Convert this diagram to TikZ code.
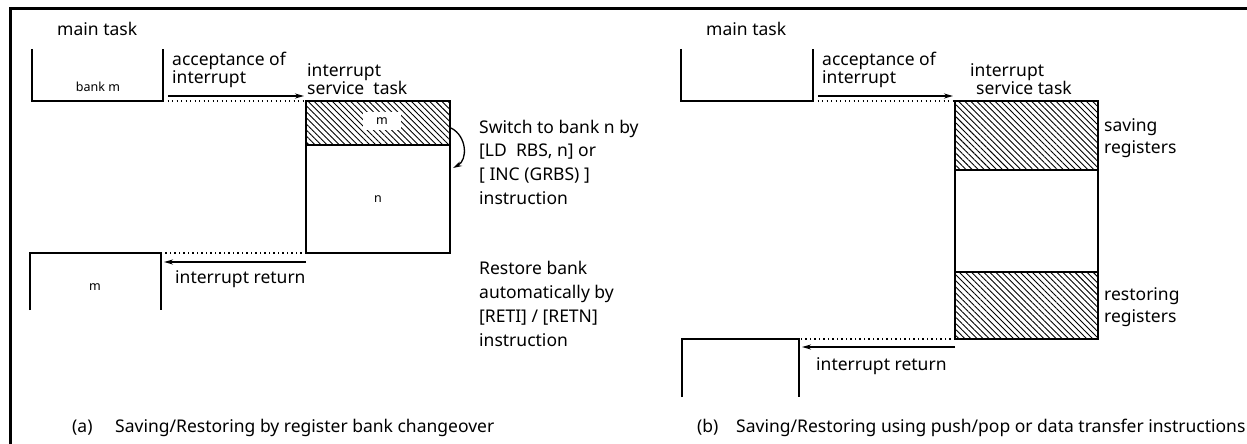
\documentclass[tikz,border=0pt]{standalone}
\usepackage{fontspec}
\setmainfont{Noto Sans}
\usetikzlibrary{patterns.meta,arrows.meta}
\begin{document}
\begin{tikzpicture}[x=1pt,y=-1pt,
  txt/.style={anchor=base west,inner sep=0pt,font=\fontsize{17.5}{21}\selectfont},
  small/.style={anchor=base,inner sep=0pt,font=\fontsize{12.5}{15}\selectfont},
  outline/.style={line width=2pt},
  hatch/.style={pattern={Lines[angle=-45,distance=4.3pt,line width=0.9pt]}},
  flow/.style={line width=1.6pt,-{Stealth[length=9pt,width=5pt]}},
  dots/.style={line width=1.3pt,dash pattern=on 1.3pt off 3.2pt},
]
\useasboundingbox (0,0) rectangle (1247,444);
\draw[line width=3pt] (10,444) -- (10,9) -- (1247,9);

% ---------------- panel (a) ----------------
\node[txt] (amain) at (57,36) {main task};
\coordinate (a1tl) at (32,49); \coordinate (a1bl) at (32,101);
\coordinate (a1br) at (163,101); \coordinate (a1tr) at (163,49);
\draw[outline] (a1tl) -- (a1bl) -- (a1br) -- (a1tr);
\node[small] (abank) at (98,91) {bank m};

\coordinate (aisrtl) at (306,101); \coordinate (aisrbr) at (450,253);
\coordinate (ahl) at (306,145); \coordinate (ahr) at (450,145);
\fill[hatch] (aisrtl) rectangle (ahr);
\draw[outline] (aisrtl) rectangle (aisrbr);
\draw[outline] (ahl) -- (ahr);
\node[small,fill=white,inner xsep=13pt,inner ysep=6pt,anchor=center] (am) at (382,121) {m};
\node[small] (an) at (378,202) {n};

\coordinate (aacc1) at (168,96); \coordinate (aacc2) at (304,96);
\draw[flow] (aacc1) -- (aacc2);
\draw[dots] (a1br) -- (aisrtl);
\node[txt] (aacc) at (172,66) {acceptance of};
\node[txt] (aacc2t) at (172,84) {interrupt};
\node[txt] (aisr1) at (307,76) {interrupt};
\node[txt] (aisr2) at (307,94) {service~ task};

\coordinate (asw1) at (451,128); \coordinate (asw2) at (453,168);
\draw[line width=1.3pt,-{Stealth[length=9pt,width=5pt]}] (asw1) .. controls (467,136) and (468,160) .. (asw2);
\node[txt] (asw3) at (479,133) {Switch to bank n by};
\node[txt] (asw4) at (479,156) {[LD\ \ RBS, n] or};
\node[txt] (asw5) at (479,180) {[ INC (GRBS) ]};
\node[txt] (asw6) at (479,204) {instruction};

\node[txt] (ars1) at (479,274) {Restore bank};
\node[txt] (ars2) at (479,298) {automatically by};
\node[txt] (ars3) at (479,322) {[RETI] / [RETN]};
\node[txt] (ars4) at (479,346) {instruction};

\coordinate (a2tl) at (161,253); \coordinate (a2tlb) at (30,253);
\coordinate (a2bl) at (30,310); \coordinate (a2br) at (161,310);
\draw[outline] (a2bl) -- (a2tlb) -- (a2tl) -- (a2br);
\node[small] (am2) at (95,290) {m};
\coordinate (aisrbl) at (306,253);
\draw[dots] (aisrbl) -- (a2tl);
\coordinate (aret1) at (306,262); \coordinate (aret2) at (164,262);
\draw[flow] (aret1) -- (aret2);
\node[txt] (aret) at (175,283) {interrupt return};

\node[txt] (acapl) at (72,432) {(a)};
\node[txt] (acap) at (115,432) {Saving/Restoring by register bank changeover};

% ---------------- panel (b) ----------------
\node[txt] (bmain) at (706,36) {main task};
\coordinate (b1tl) at (681,49); \coordinate (b1bl) at (681,101);
\coordinate (b1br) at (813,101); \coordinate (b1tr) at (813,49);
\draw[outline] (b1tl) -- (b1bl) -- (b1br) -- (b1tr);

\coordinate (bisrtl) at (955,101); \coordinate (bisrbr) at (1098,339);
\coordinate (bh1l) at (955,170); \coordinate (bh1r) at (1098,170);
\coordinate (bh2l) at (955,272); \coordinate (bh2r) at (1098,272);
\coordinate (bisrbl) at (955,339);
\fill[hatch] (bisrtl) rectangle (bh1r);
\fill[hatch] (bh2l) rectangle (bisrbr);
\draw[outline] (bisrtl) rectangle (bisrbr);
\draw[outline] (bh1l) -- (bh1r);
\draw[outline] (bh2l) -- (bh2r);

\coordinate (bacc1) at (818,96); \coordinate (bacc2) at (953,96);
\draw[flow] (bacc1) -- (bacc2);
\draw[dots] (b1br) -- (bisrtl);
\node[txt] (bacc) at (822,66) {acceptance of};
\node[txt] (bacc2t) at (822,84) {interrupt};
\node[txt] (bisr1) at (970,76) {interrupt};
\node[txt] (bisr2) at (976,94) {service task};

\node[txt] (bsave1) at (1104,131) {saving};
\node[txt] (bsave2) at (1104,153) {registers};
\node[txt] (brest1) at (1104,300) {restoring};
\node[txt] (brest2) at (1104,322) {registers};

\coordinate (b2tl) at (799,339); \coordinate (b2tlb) at (682,339);
\coordinate (b2bl) at (682,397); \coordinate (b2br) at (799,397);
\draw[outline] (b2bl) -- (b2tlb) -- (b2tl) -- (b2br);
\draw[dots] (bisrbl) -- (b2tl);
\coordinate (bret1) at (955,347); \coordinate (bret2) at (802,347);
\draw[flow] (bret1) -- (bret2);
\node[txt] (bret) at (816,370) {interrupt return};

\node[txt] (bcapl) at (697,432) {(b)};
\node[txt] (bcap) at (736,432) {Saving/Restoring using push/pop or data transfer instructions};
\end{tikzpicture}
\end{document}
